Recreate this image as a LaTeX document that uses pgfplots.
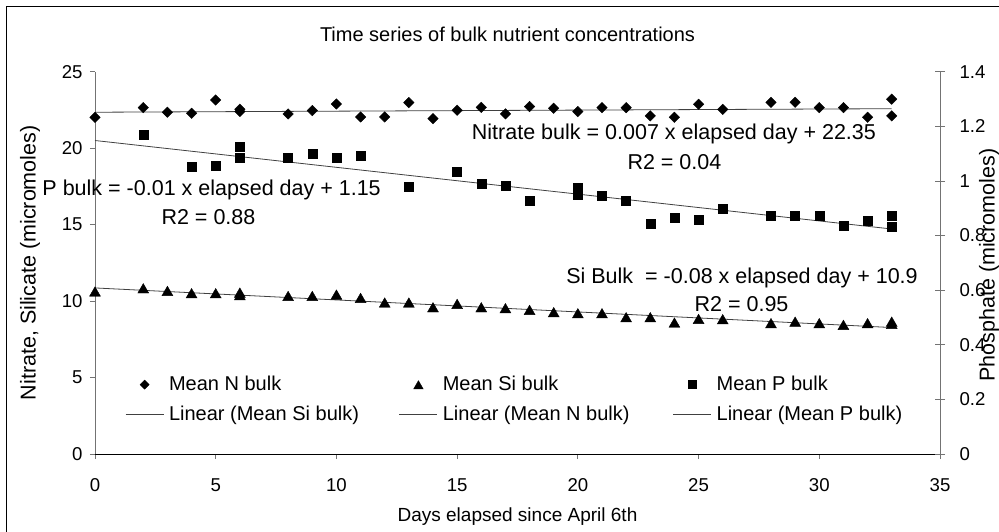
\documentclass[border=0pt]{standalone}
\usepackage{pgfplots}
\pgfplotsset{compat=1.18}
\usepackage{fontspec}
\setmainfont{Liberation Sans}
\definecolor{trend}{gray}{0.25}
\definecolor{axgray}{gray}{0.45}
\begin{document}
\begin{tikzpicture}[x=1pt,y=1pt]
\useasboundingbox (-95,-77) rectangle (904,454);
\draw[line width=1pt] (-88,-90) -- (-88,447) -- (915,447);
\node[anchor=base, font=\fontsize{20}{24}\selectfont] at (412.5,412.3) {Time series of bulk nutrient concentrations};
\pgfplotsset{
  common/.style={
    at={(0,0)}, anchor=south west,
    scale only axis, width=845pt, height=382.3pt,
    xmin=0, xmax=35,
    /pgf/number format/assume math mode=true,
    tick label style={font=\fontsize{18.6}{22}\selectfont},
    clip=false,
  }
}
\begin{axis}[common,
  ymin=0, ymax=25,
  axis x line*=bottom, axis y line*=left,
  axis line style={-},
  x axis line style={black, line width=0.9pt},
  y axis line style={axgray, line width=0.9pt},
  xtick={0,5,...,35}, ytick={0,5,...,25},
  tick align=outside, major tick length=5pt,
  tick style={axgray, line width=0.8pt},
  xticklabel style={yshift=-16pt},
  yticklabel style={xshift=-4pt},
  xlabel={Days elapsed since April 6th},
  ylabel={Nitrate, Silicate (micromoles)},
  x label style={at={(axis description cs:0.5,-0.177)}, anchor=base, font=\fontsize{19}{22}\selectfont},
  y label style={at={(axis description cs:-0.077,0.5)}, anchor=center, font=\fontsize{21.5}{24}\selectfont},
]
\addplot[only marks, mark=square*, mark size=3.7pt, mark options={rotate=45, fill=black, draw=black}] coordinates {
(0,22.02)(2,22.65)(3,22.35)(4,22.28)(5,23.15)(6,22.55)(6,22.40)(8,22.24)(9,22.46)(10,22.89)(11,22.04)(12,22.04)(13,22.98)(14,21.93)(15,22.48)(16,22.67)(17,22.24)(18,22.72)(19,22.61)(20,22.39)(21,22.65)(22,22.65)(23,22.11)(24,22.02)(25,22.87)(26,22.54)(28,23.0)(29,23.0)(30,22.65)(31,22.65)(32,22.02)(33,23.2)(33,22.11)
};
\addplot[only marks, mark=triangle*, mark size=6.3pt, mark options={fill=black, draw=black, yshift=-1.5pt}] coordinates {
(0,10.62)(2,10.83)(3,10.66)(4,10.51)(5,10.51)(6,10.55)(6,10.38)(8,10.33)(9,10.33)(10,10.42)(11,10.20)(12,9.90)(13,9.90)(14,9.59)(15,9.81)(16,9.59)(17,9.53)(18,9.42)(19,9.27)(20,9.20)(21,9.20)(22,8.94)(23,8.94)(24,8.59)(25,8.83)(26,8.81)(28,8.55)(29,8.65)(30,8.55)(31,8.44)(32,8.55)(33,8.65)(33,8.50)
};
\addplot[trend, line width=0.8pt, mark=none] coordinates {(0,22.35)(33,22.58)};
\addplot[trend, line width=0.8pt, mark=none] coordinates {(0,10.86)(33,8.27)};
\node[anchor=base, font=\fontsize{21.5}{24}\selectfont] at (axis cs:23.98,20.54) {Nitrate bulk = 0.007 x elapsed day + 22.35};
\node[anchor=base, font=\fontsize{21.5}{24}\selectfont] at (axis cs:24.0,18.62) {R2 = 0.04};
\node[anchor=base, font=\fontsize{21.5}{24}\selectfont] at (axis cs:4.83,16.89) {P bulk = -0.01 x elapsed day + 1.15};
\node[anchor=base, font=\fontsize{21.5}{24}\selectfont] at (axis cs:4.70,15.02) {R2 = 0.88};
\node[anchor=base, font=\fontsize{21.5}{24}\selectfont] at (axis cs:26.8,11.16) {Si Bulk\ \ = -0.08 x elapsed day + 10.9};
\node[anchor=base, font=\fontsize{21.5}{24}\selectfont] at (axis cs:26.78,9.31) {R2 = 0.95};
\end{axis}
\begin{axis}[common,
  ymin=0, ymax=1.4,
  axis x line=none, axis y line*=right,
  axis line style={-},
  y axis line style={axgray, line width=0.9pt},
  ytick={0,0.2,0.4,0.6,0.8,1,1.2,1.4},
  tick align=center, major tick length=10pt,
  tick style={axgray, line width=0.8pt},
  yticklabel style={xshift=11pt},
  ylabel={Phosphate (micromoles)},
  y label style={at={(axis description cs:1.058,0.494)}, anchor=center, rotate=0, font=\fontsize{21.5}{24}\selectfont},
  legend columns=3,
  legend image code/.code={\draw[mark repeat=2,mark phase=2,#1] plot coordinates {(0pt,0pt) (19pt,0pt) (38pt,0pt)};},
  legend style={draw=none, fill=none, at={(axis description cs:0.032,0.212)}, anchor=north west,
    font=\fontsize{20}{24}\selectfont, legend cell align=left,
    nodes={inner sep=0pt, text height=15pt, text depth=4pt},
    row sep=11pt, column sep=5pt},
]
\addplot[only marks, mark=square*, mark size=4.5pt, mark options={fill=black, draw=black}, forget plot] coordinates {
(2,1.168)(4,1.051)(5,1.057)(6,1.125)(6,1.085)(8,1.085)(9,1.101)(10,1.085)(11,1.091)(13,0.978)(15,1.033)(16,0.991)(17,0.981)(18,0.928)(20,0.975)(20,0.948)(21,0.947)(22,0.929)(23,0.843)(24,0.865)(25,0.859)(26,0.900)(28,0.873)(29,0.873)(30,0.873)(31,0.836)(32,0.854)(33,0.873)(33,0.832)
};
\addplot[trend, line width=0.8pt, mark=none, forget plot] coordinates {(0,1.148)(33,0.824)};
\addlegendimage{only marks, mark=square*, mark size=3.2pt, mark options={rotate=45, fill=black, draw=black}}
\addlegendentry{\makebox[225pt][l]{Mean N bulk}}
\addlegendimage{only marks, mark=triangle*, mark size=5.5pt, mark options={fill=black, draw=black, yshift=-1.5pt}}
\addlegendentry{\makebox[225pt][l]{Mean Si bulk}}
\addlegendimage{only marks, mark=square*, mark size=4pt, mark options={fill=black, draw=black}}
\addlegendentry{\makebox[225pt][l]{Mean P bulk}}
\addlegendimage{trend, line width=0.8pt, mark=none}
\addlegendentry{\makebox[225pt][l]{Linear (Mean Si bulk)}}
\addlegendimage{trend, line width=0.8pt, mark=none}
\addlegendentry{\makebox[225pt][l]{Linear (Mean N bulk)}}
\addlegendimage{trend, line width=0.8pt, mark=none}
\addlegendentry{\makebox[225pt][l]{Linear (Mean P bulk)}}
\end{axis}
\end{tikzpicture}
\end{document}
